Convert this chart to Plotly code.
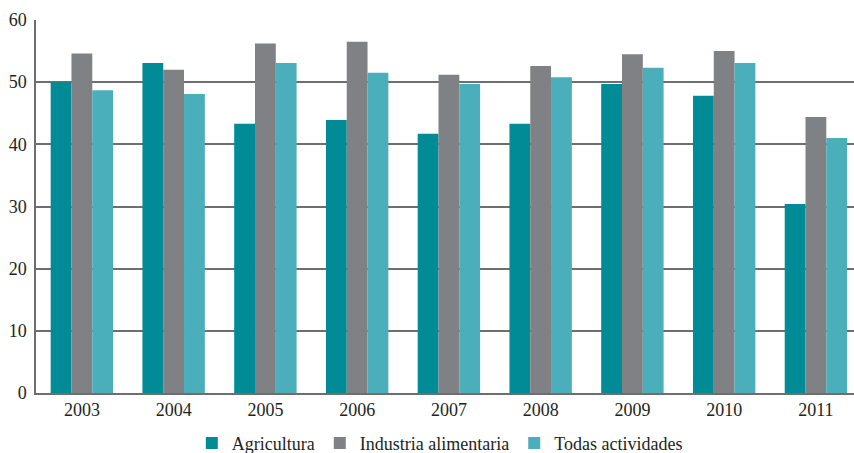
import plotly.graph_objects as go

years = ["2003", "2004", "2005", "2006", "2007", "2008", "2009", "2010", "2011"]
agricultura = [50.0, 53.1, 43.3, 43.9, 41.7, 43.3, 49.7, 47.8, 30.4]
industria = [54.6, 52.0, 56.2, 56.5, 51.2, 52.6, 54.5, 55.0, 44.4]
todas = [48.7, 48.1, 53.1, 51.5, 49.7, 50.8, 52.3, 53.1, 41.0]

names = ["Agricultura", "Industria alimentaria", "Todas actividades"]
colors = ["#008b96", "#808184", "#4aaebb"]

fig = go.Figure()
for name, vals, col in zip(names, [agricultura, industria, todas], colors):
    fig.add_trace(go.Bar(x=years, y=vals, name=name, marker=dict(color=col, line=dict(width=0))))

font_family = "'Liberation Serif', serif"
fig.update_layout(
    width=854, height=453,
    margin=dict(l=36, r=0, t=20, b=60),
    paper_bgcolor="white", plot_bgcolor="white",
    barmode="group", bargap=0.32, bargroupgap=0,
    font=dict(family=font_family, size=18, color="#231f20"),
    showlegend=True,
    legend=dict(orientation="h", x=0.515, xanchor="center", xref="container",
                y=0.062, yanchor="top", yref="container",
                font=dict(size=18, family=font_family), itemwidth=30, tracegroupgap=0),
    xaxis=dict(range=[-0.5, 8.415], showgrid=False, showline=True, linecolor="#6d6e71", linewidth=1.5,
               ticks="", tickfont=dict(size=18, family=font_family), automargin=False),
    yaxis=dict(range=[0, 60], dtick=10, showgrid=True, gridcolor="#6d6e71", gridwidth=1.5,
               showline=True, linecolor="#6d6e71", linewidth=1.5, zeroline=False,
               ticks="", tickfont=dict(size=18, family=font_family), ticklabelstandoff=4, automargin=False),
)
fig.write_html("out.html")
